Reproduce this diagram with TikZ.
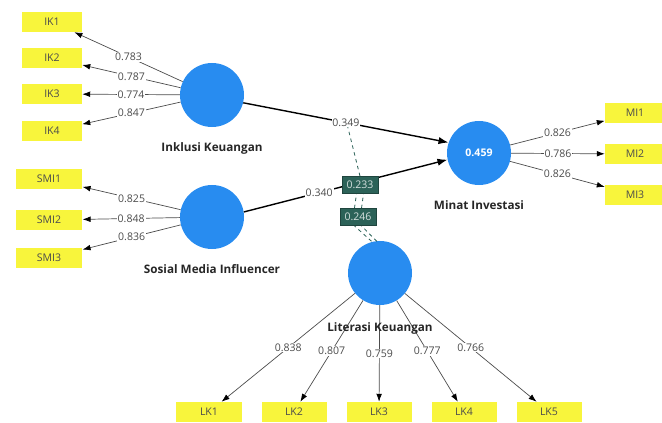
\documentclass[tikz,border=0pt]{standalone}
\usepackage{fontspec}
\setmainfont{Open Sans}
\usepackage{tikz}
\usetikzlibrary{positioning, arrows.meta, calc}
\definecolor{lvblue}{RGB}{40,140,240}
\definecolor{indyellow}{RGB}{248,245,60}
\definecolor{modteal}{RGB}{44,98,88}
\definecolor{coefgray}{RGB}{75,75,75}

\begin{document}
\begin{tikzpicture}[x=0.03cm, y=-0.03cm,
  latent/.style={circle, fill=lvblue, minimum size=1.92cm, inner sep=0pt, text=white, font=\fontsize{9}{11}\selectfont\bfseries},
  indicator/.style={rectangle, fill=indyellow, minimum width=1.8cm, minimum height=0.6cm, inner sep=2pt, text=black!70, font=\fontsize{9}{11}\selectfont},
  lvname/.style={font=\fontsize{10}{12}\selectfont\bfseries, text=black!85},
  loading/.style={-{Latex[length=2.4mm, width=1.7mm, color=black]}, draw=black!70, line width=0.6pt},
  struct/.style={-{Latex[length=3mm, width=2.2mm]}, draw=black, line width=1.2pt},
  coef/.style={fill=white, inner sep=0.8pt, text=coefgray, font=\fontsize{9}{11}\selectfont},
  modbox/.style={rectangle, fill=modteal, draw=modteal!70!black, text=white!80!modteal, inner sep=1.5pt, minimum width=1.08cm, minimum height=0.52cm, font=\fontsize{9}{11}\selectfont},
  modline/.style={dashed, draw=modteal, line width=0.7pt}]
  \useasboundingbox (0,0) rectangle (662,423);

  % latent variables
  \node[latent] (IK) at (212,95) {};
  \node[latent] (SMI) at (212,217) {};
  \node[latent] (MI) at (479,153) {0.459};
  \node[latent] (LK) at (380,273) {};
  \node[lvname, below=0.33cm of IK] (IKname) {Inklusi Keuangan};
  \node[lvname, below=0.33cm of SMI] (SMIname) {Sosial Media Influencer};
  \node[lvname, below=0.33cm of MI] (MIname) {Minat Investasi};

  % indicators
  \node[indicator] (ik1) at (52,22) {IK1};
  \node[indicator] (ik2) at (52,58) {IK2};
  \node[indicator] (ik3) at (52,94) {IK3};
  \node[indicator] (ik4) at (52,131) {IK4};
  \node[indicator, minimum width=2cm] (smi1) at (49,179) {SMI1};
  \node[indicator, minimum width=2cm] (smi2) at (49,220) {SMI2};
  \node[indicator, minimum width=2cm] (smi3) at (49,258) {SMI3};
  \node[indicator] (mi1) at (635,113) {MI1};
  \node[indicator] (mi2) at (635,154) {MI2};
  \node[indicator] (mi3) at (635,195) {MI3};
  \node[indicator, minimum width=1.95cm] (lk1) at (209,412) {LK1};
  \node[indicator, minimum width=1.95cm] (lk2) at (294,412) {LK2};
  \node[indicator, minimum width=1.95cm] (lk3) at (379,412) {LK3};
  \node[indicator, minimum width=1.95cm] (lk4) at (464,412) {LK4};
  \node[indicator, minimum width=1.95cm] (lk5) at (549,412) {LK5};

  % outer loadings
  \draw[loading] (IK) -- node[coef] {0.783} (ik1);
  \draw[loading] (IK) -- node[coef] {0.787} (ik2);
  \draw[loading] (IK) -- node[coef] {0.774} (ik3);
  \draw[loading] (IK) -- node[coef] {0.847} (ik4);
  \draw[loading] (SMI) -- node[coef] {0.825} (smi1);
  \draw[loading] (SMI) -- node[coef] {0.848} (smi2);
  \draw[loading] (SMI) -- node[coef] {0.836} (smi3);
  \draw[loading] (MI) -- node[coef] {0.826} (mi1);
  \draw[loading] (MI) -- node[coef] {0.786} (mi2);
  \draw[loading] (MI) -- node[coef] {0.826} (mi3);
  \draw[loading] (LK) -- node[coef] {0.838} (lk1);
  \draw[loading] (LK) -- node[coef] {0.807} (lk2);
  \draw[loading] (LK) -- node[coef] {0.759} (lk3);
  \draw[loading] (LK) -- node[coef] {0.777} (lk4);
  \draw[loading] (LK) -- node[coef] {0.766} (lk5);
  \node[lvname] (LKname) at (380,328) {Literasi Keuangan};

  % moderating effects
  \coordinate (m1) at (347,124);
  \node[modbox] (mod2) at (358,217) {0.246};
  \node[modbox] (mod1) at (360,185) {0.233};
  \draw[modline] ([xshift=-2.5pt]LK.100) -- ([xshift=-3pt]mod2.south) ([xshift=-3pt]mod2.north) -- ([xshift=-3pt]mod1.south) (mod1.north) -- (m1);
  \draw[modline] ([xshift=2pt]LK.100) -- ([xshift=3pt]mod2.south) ([xshift=3pt]mod2.north) -- ([xshift=3pt]mod1.south);

  % structural paths
  \draw[struct] (IK.346) -- node[coef] {0.349} (MI.161);
  \draw[struct] (SMI.9) -- node[coef, pos=0.37] {0.340} (MI.192);
  \node[modbox] at (mod1) {0.233};
  \node[modbox] at (mod2) {0.246};
\end{tikzpicture}
\end{document}
